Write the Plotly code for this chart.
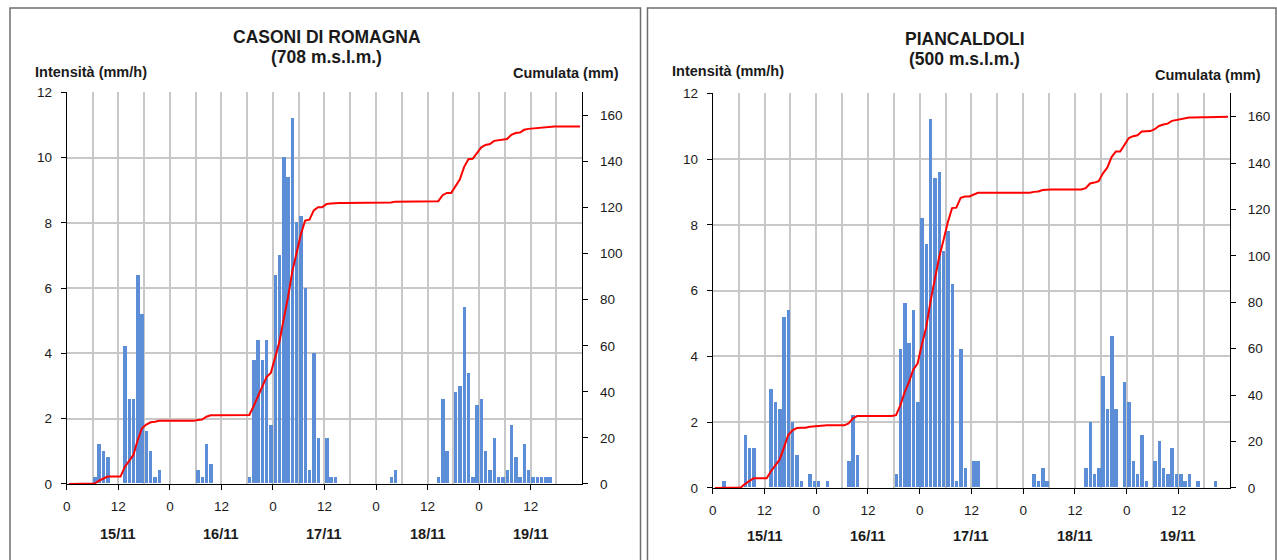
import numpy as np
import plotly.graph_objects as go

# ---------------- data ----------------
hours = list(range(120))  # hourly bins from 15/11 00:00 to 19/11 23:00

casoni = (
    [0, 0, 0, 0, 0, 0, 0.2, 1.2, 1.0, 0.8, 0, 0, 0, 4.2, 2.6, 2.6, 6.4, 5.2, 1.6, 1.0, 0.2, 0.4, 0, 0]
    + [0, 0, 0, 0, 0, 0, 0.4, 0.2, 1.2, 0.6, 0, 0, 0, 0, 0, 0, 0, 0, 0.2, 3.8, 4.4, 3.8, 4.4, 1.8]
    + [6.4, 7.0, 10.0, 9.4, 11.2, 8.0, 8.2, 6.0, 0.4, 4.0, 1.4, 0, 1.4, 0.2, 0.2, 0, 0, 0, 0, 0, 0, 0, 0, 0]
    + [0, 0, 0, 0.2, 0.4, 0, 0, 0, 0, 0, 0, 0, 0, 0, 0.2, 2.6, 1.0, 0, 2.8, 3.0, 5.4, 3.4, 0.2, 2.4]
    + [2.6, 1.0, 0.4, 1.4, 0.2, 0.2, 0.4, 1.8, 0.8, 0.2, 1.2, 0.4, 0.2, 0.2, 0.2, 0.2, 0.2, 0, 0, 0, 0, 0, 0, 0]
)

piancaldoli = (
    [0, 0, 0.2, 0, 0, 0, 0, 1.6, 1.2, 1.2, 0, 0, 0, 3.0, 2.6, 2.4, 5.2, 5.4, 2.0, 1.0, 0.2, 0, 0.4, 0.2]
    + [0.2, 0, 0.2, 0, 0, 0, 0, 0.8, 2.2, 1.0, 0, 0, 0, 0, 0, 0, 0, 0, 0.4, 4.2, 5.6, 4.4, 5.4, 2.6]
    + [8.2, 7.4, 11.2, 9.4, 9.6, 7.2, 7.8, 6.2, 0.2, 4.2, 0.6, 0, 0.8, 0.8, 0, 0, 0, 0, 0, 0, 0, 0, 0, 0]
    + [0, 0, 0.4, 0.2, 0.6, 0.2, 0, 0, 0, 0, 0, 0, 0, 0, 0.6, 2.0, 0.4, 0.6, 3.4, 2.4, 4.6, 2.4, 0, 3.2]
    + [2.6, 0.8, 0.4, 1.6, 0.2, 0, 0.8, 1.4, 0.6, 0.4, 1.2, 0.4, 0.4, 0.2, 0.4, 0, 0.2, 0, 0, 0, 0.2, 0, 0, 0]
)

hour_tickvals = [0, 12, 24, 36, 48, 60, 72, 84, 96, 108]
hour_ticktext = ["0", "12", "0", "12", "0", "12", "0", "12", "0", "12"]
day_labels = ["15/11", "16/11", "17/11", "18/11", "19/11"]
day_centers = [12, 36, 60, 84, 108]

titles = [("CASONI DI ROMAGNA", "(708 m.s.l.m.)"), ("PIANCALDOLI", "(500 m.s.l.m.)")]

# ---------------- figure ----------------
W, H = 1277, 560
FONT = "Liberation Sans, Arial, sans-serif"
BAR = "#5B8ED6"
GRID = "#C8C8C8"
TXT = "#1a1a1a"

xc = np.array(hours) + 0.5
cum_c = np.round(np.cumsum(casoni), 2)
cum_p = np.round(np.cumsum(piancaldoli), 2)

fig = go.Figure()
fig.add_trace(go.Bar(x=xc, y=casoni, xaxis="x", yaxis="y", marker=dict(color=BAR, line=dict(width=0)),
                     width=0.8, showlegend=False))
fig.add_trace(go.Scatter(x=xc, y=cum_c, xaxis="x", yaxis="y2", mode="lines",
                         line=dict(color="#FF0000", width=2), showlegend=False))
fig.add_trace(go.Bar(x=xc, y=piancaldoli, xaxis="x2", yaxis="y3", marker=dict(color=BAR, line=dict(width=0)),
                     width=0.8, showlegend=False))
fig.add_trace(go.Scatter(x=xc, y=cum_p, xaxis="x2", yaxis="y4", mode="lines",
                         line=dict(color="#FF0000", width=2), showlegend=False))


def px_x(v):
    return v / W


def px_y(v):
    # target pixel row (from top) -> paper fraction, with a small correction
    # for the slight vertical offset/compression observed in the rendered page
    v = (v - 7.4) / 0.9745
    return (H - v) / H


tickfont = dict(family=FONT, size=13.5, color=TXT)


def xaxis_def(x0, x1, anchor):
    return dict(domain=[px_x(x0), px_x(x1)], range=[0, 120], anchor=anchor,
                tickmode="array", tickvals=hour_tickvals, ticktext=hour_ticktext,
                ticks="outside", ticklen=5, tickcolor="black", tickfont=tickfont,
                ticklabelstandoff=5,
                showline=True, linecolor="black", linewidth=1,
                showgrid=True, gridcolor=GRID, gridwidth=1.5, zeroline=False,
                minor=dict(dtick=6, tick0=0, showgrid=True, gridcolor=GRID, gridwidth=1.5, ticks=""),
                fixedrange=True)


def yleft_def(y_top, y_bot, anchor):
    return dict(domain=[px_y(y_bot), px_y(y_top)], range=[0, 12], dtick=2, anchor=anchor,
                ticks="outside", ticklen=5, tickcolor="black", tickfont=tickfont,
                ticklabelstandoff=6,
                showline=True, linecolor="black", linewidth=1,
                showgrid=True, gridcolor=GRID, gridwidth=1.5, zeroline=False)


def yright_def(overlay, anchor):
    return dict(overlaying=overlay, side="right", range=[0, 170], anchor=anchor,
                tickmode="array", tickvals=[0, 20, 40, 60, 80, 100, 120, 140, 160],
                ticks="outside", ticklen=5, tickcolor="black", tickfont=tickfont,
                ticklabelstandoff=9,
                showline=True, linecolor="black", linewidth=1,
                showgrid=False, zeroline=False)


fig.update_layout(
    width=W, height=H,
    margin=dict(l=0, r=0, t=0, b=0),
    paper_bgcolor="white", plot_bgcolor="white",
    font=dict(family=FONT, color=TXT),
    bargap=0,
    xaxis=xaxis_def(63, 580, "y"),
    yaxis=yleft_def(93, 485, "x"),
    yaxis2=yright_def("y", "x"),
    xaxis2=xaxis_def(711, 1230, "y3"),
    yaxis3=yleft_def(94, 489, "x2"),
    yaxis4=yright_def("y3", "x2"),
)

ann = []
shapes = []
panels = [
    dict(frame=(6, 638.5), cx=324, t1=37.5, t2=57, il=(29, 72), cr=(619, 73), dates_y=535),
    dict(frame=(645.5, 1276), cx=964, t1=39, t2=59, il=(668, 71.5), cr=(1263, 75.5), dates_y=537),
]
for i, p in enumerate(panels):
    xref = "x" if i == 0 else "x2"
    shapes.append(dict(type="rect", xref="paper", yref="paper",
                       x0=px_x(p["frame"][0]), x1=px_x(p["frame"][1]),
                       y0=-0.05, y1=px_y(8.5),
                       line=dict(color="#6e6e6e", width=1.5), fillcolor="rgba(0,0,0,0)", layer="below"))
    for txt, yy in ((titles[i][0], p["t1"]), (titles[i][1], p["t2"])):
        ann.append(dict(text="<b>%s</b>" % txt, x=px_x(p["cx"]), y=px_y(yy),
                        xref="paper", yref="paper", showarrow=False, xanchor="center", yanchor="middle",
                        font=dict(family=FONT, size=17.5, color=TXT)))
    ann.append(dict(text="<b>Intensità (mm/h)</b>", x=px_x(p["il"][0]), y=px_y(p["il"][1]),
                    xref="paper", yref="paper", showarrow=False, xanchor="left", yanchor="middle",
                    font=dict(family=FONT, size=14.5, color=TXT)))
    ann.append(dict(text="<b>Cumulata (mm)</b>", x=px_x(p["cr"][0]), y=px_y(p["cr"][1]),
                    xref="paper", yref="paper", showarrow=False, xanchor="right", yanchor="middle",
                    font=dict(family=FONT, size=14.5, color=TXT)))
    for lab, c in zip(day_labels, day_centers):
        ann.append(dict(text="<b>%s</b>" % lab, x=c, y=px_y(p["dates_y"]),
                        xref=xref, yref="paper", showarrow=False, xanchor="center", yanchor="middle",
                        font=dict(family=FONT, size=14.5, color=TXT)))

fig.update_layout(annotations=ann, shapes=shapes)
fig.write_html(
    "out.html",
    post_script="document.body.style.margin='0';document.body.style.padding='0';"
                "document.documentElement.style.overflow='hidden';",
)
